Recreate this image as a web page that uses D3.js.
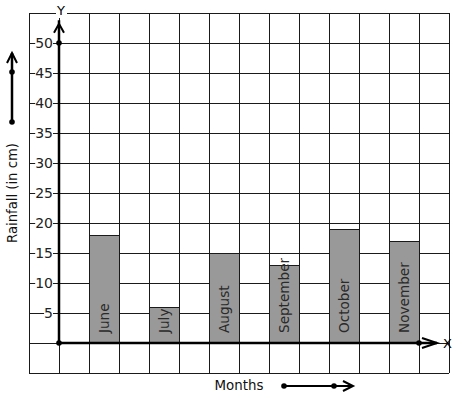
<!DOCTYPE html>
<html><head><meta charset="utf-8">
<script src="https://cdn.jsdelivr.net/npm/d3@7"></script>
<style>body{margin:0;background:#fff;}svg{display:block;font-family:"DejaVu Sans",sans-serif;}</style>
</head><body><svg id="c" width="457" height="399"></svg>
<script>
const months = ["June","July","August","September","October","November"];
const rainfall = [18,6,15,13,19,17];
const monthPos = [1,3,5,7,9,11];
const yTicks = [5,10,15,20,25,30,35,40,45,50];

const svg = d3.select("#c");
const x = d3.scaleLinear().domain([-1,13]).range([29,449]);
const y = d3.scaleLinear().domain([-5,55]).range([373,13]);
const ink = "#1a1a1a";

// grid
const g = svg.append("g");
d3.range(-1,14).forEach(v=>g.append("line").attr("x1",x(v)).attr("x2",x(v)).attr("y1",y(-5)).attr("y2",y(55)).attr("stroke",ink).attr("stroke-width",1).attr("shape-rendering","crispEdges"));
d3.range(-5,56,5).forEach(v=>g.append("line").attr("x1",x(-1)).attr("x2",x(13)).attr("y1",y(v)).attr("y2",y(v)).attr("stroke",ink).attr("stroke-width",1).attr("shape-rendering","crispEdges"));

// bars
svg.selectAll("rect.bar").data(rainfall).join("rect").attr("class","bar")
  .attr("x",(d,i)=>x(monthPos[i])).attr("width",x(1)-x(0))
  .attr("y",d=>y(d)).attr("height",d=>y(0)-y(d))
  .attr("fill","#999").attr("stroke",ink).attr("stroke-width",1).attr("shape-rendering","crispEdges");
svg.selectAll("text.bl").data(months).join("text").attr("class","bl")
  .attr("transform",(d,i)=>`translate(${x(monthPos[i]+0.5)+5},${y(0)-10}) rotate(-90)`)
  .attr("font-size",13.6).attr("fill","#2a2a2a").text(d=>d);

// y tick labels with white background
yTicks.forEach(v=>{
  const t = svg.append("text").attr("x",53).attr("y",y(v)+5).attr("text-anchor","end").attr("font-size",14).attr("fill","#222").text(v);
  const b = t.node().getBBox();
  svg.insert("rect","text").attr("x",b.x).attr("y",y(v)-4).attr("width",b.width).attr("height",8).attr("fill","#fff");
});
svg.selectAll("text").raise();

// axes
const ax = svg.append("g").attr("stroke","#000").attr("stroke-width",2.5).attr("fill","none");
ax.append("line").attr("x1",x(0)).attr("x2",x(0)).attr("y1",y(0)).attr("y2",y(53.8));
ax.append("path").attr("d",`M${x(0)-5},${y(51.7)} L${x(0)},${y(53.2)} L${x(0)+5},${y(51.7)}`).attr("stroke-width",2);
ax.append("line").attr("x1",x(0)).attr("x2",x(12.6)).attr("y1",y(0)).attr("y2",y(0));
ax.append("path").attr("d",`M${x(12.1)},${y(0)-5} L${x(12.6)},${y(0)} L${x(12.1)},${y(0)+5}`).attr("stroke-width",2);
[[0,0],[0,50],[12,0]].forEach(p=>svg.append("circle").attr("cx",x(p[0])).attr("cy",y(p[1])).attr("r",2.8).attr("fill","#000"));

// axis letters
svg.append("rect").attr("x",56).attr("y",8).attr("width",11).attr("height",10).attr("fill","#fff");
svg.append("text").attr("x",x(0)+2).attr("y",15).attr("text-anchor","middle").attr("font-size",13).text("Y");
svg.append("text").attr("x",443).attr("y",348).attr("font-size",13).text("X");

// axis titles
svg.append("text").attr("transform","translate(17,193) rotate(-90)").attr("text-anchor","middle").attr("font-size",13.2).attr("fill","#111").text("Rainfall (in cm)");
svg.append("text").attr("x",239).attr("y",390).attr("text-anchor","middle").attr("font-size",13.4).attr("fill","#111").text("Months");

// decorative direction arrows
const da = svg.append("g").attr("stroke","#000").attr("fill","none").attr("stroke-width",2.5);
da.append("line").attr("x1",12).attr("x2",12).attr("y1",122).attr("y2",53);
da.append("path").attr("d","M7,63 L12,53 L17,63").attr("stroke-width",2);
[72,122].forEach(cy=>svg.append("circle").attr("cx",12).attr("cy",cy).attr("r",2.8));
da.append("line").attr("x1",284).attr("x2",352).attr("y1",386).attr("y2",386).attr("stroke-width",2);
da.append("path").attr("d","M343,381 L353,386 L343,391").attr("stroke-width",2);
[284,334].forEach(cx=>svg.append("circle").attr("cx",cx).attr("cy",386).attr("r",2.8));
</script></body></html>
